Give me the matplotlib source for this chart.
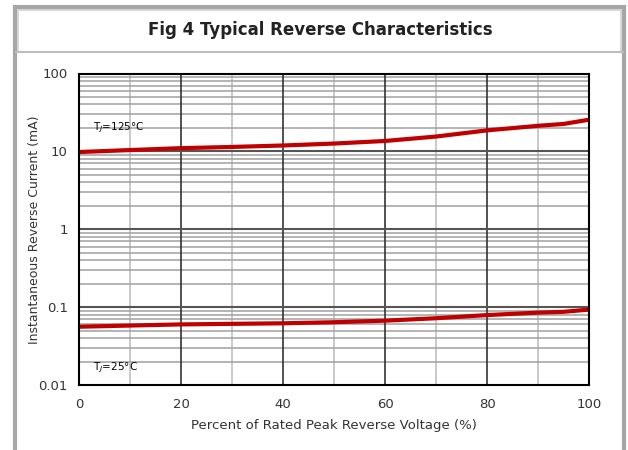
import numpy as np
import matplotlib
matplotlib.use("Agg")
import matplotlib.pyplot as plt
from matplotlib.patches import Rectangle
from matplotlib.lines import Line2D

# Data
volt_pct = [0, 10, 20, 30, 40, 50, 60, 70, 80, 90, 95, 100]
ir_125 = [9.8, 10.4, 11.0, 11.4, 11.9, 12.6, 13.6, 15.5, 18.6, 21.3, 22.5, 25.5]
ir_25 = [0.056, 0.058, 0.060, 0.061, 0.062, 0.064, 0.067, 0.072, 0.079, 0.085, 0.087, 0.093]

x_ticks = [0, 20, 40, 60, 80, 100]
y_ticks = [0.01, 0.1, 1, 10, 100]
y_tick_labels = ["0.01", "0.1", "1", "10", "100"]

title = "Fig 4 Typical Reverse Characteristics"
xlabel = "Percent of Rated Peak Reverse Voltage (%)"
ylabel = "Instantaneous Reverse Current (mA)"

W, H = 628, 450
fig = plt.figure(figsize=(W / 100, H / 100), dpi=100)
fig.patch.set_facecolor("white")

def fx(px):
	return px / W

def fy(py):
	return 1 - py / H

# outer frame and title box
fig.add_artist(Rectangle((fx(15), fy(470)), fx(609), 463 / H, transform=fig.transFigure,
	facecolor="white", edgecolor="#a6a6a6", lw=3, zorder=-2))
fig.add_artist(Rectangle((fx(18), fy(52)), fx(603), 42 / H, transform=fig.transFigure,
	facecolor="white", edgecolor="#d0d0d0", lw=1.2, zorder=-1))
fig.add_artist(Line2D([fx(16), fx(623)], [fy(52), fy(52)], transform=fig.transFigure,
	color="#bdbdbd", lw=1.5, zorder=-1))
fig.text(fx(320), fy(30), title, ha="center", va="center", fontsize=12,
	fontweight="semibold", color="#222222")

ax = fig.add_axes([fx(79), fy(385), fx(510), (385 - 73.5) / H])
ax.set_zorder(3)
ax.set_yscale("log")
ax.set_xlim(0, 100)
ax.set_ylim(0.01, 100)

# grid
for xv in range(10, 100, 20):
	ax.axvline(xv, color="#c0c0c0", lw=1.2, zorder=1)
for xv in range(20, 100, 20):
	ax.axvline(xv, color="#333333", lw=1.2, zorder=2)
for dec in [0.01, 0.1, 1, 10]:
	for m in range(2, 10):
		ax.axhline(dec * m, color="#a0a0a0", lw=1.1, zorder=1)
for yv in [0.1, 1, 10]:
	ax.axhline(yv, color="#555555", lw=1.5, zorder=2)

ax.plot(volt_pct, ir_125, color="#c00000", lw=3.0, zorder=4, solid_capstyle="butt")
ax.plot(volt_pct, ir_25, color="#c00000", lw=3.0, zorder=4, solid_capstyle="butt")

ax.text(2.7, 20.3, "T$_J$=125°C", fontsize=7.5, va="center", ha="left", zorder=5)
ax.text(2.7, 0.0166, "T$_J$=25°C", fontsize=7.5, va="center", ha="left", zorder=5)

ax.set_xticks(x_ticks)
ax.set_yticks(y_ticks)
ax.set_yticklabels(y_tick_labels)
ax.yaxis.set_minor_locator(matplotlib.ticker.NullLocator())
ax.tick_params(length=0, labelsize=9.5, colors="#333333", pad=8)
ax.tick_params(axis="x", pad=9)
for s in ax.spines.values():
	s.set_color("black")
	s.set_linewidth(1.5)
	s.set_zorder(6)

fig.text(fx(334), fy(425), xlabel, ha="center", va="center", fontsize=9.5, color="#333333")
fig.text(fx(35), fy(230), ylabel, ha="center", va="center", rotation=90, fontsize=9, color="#333333")

fig.savefig("out.png", dpi=100)
